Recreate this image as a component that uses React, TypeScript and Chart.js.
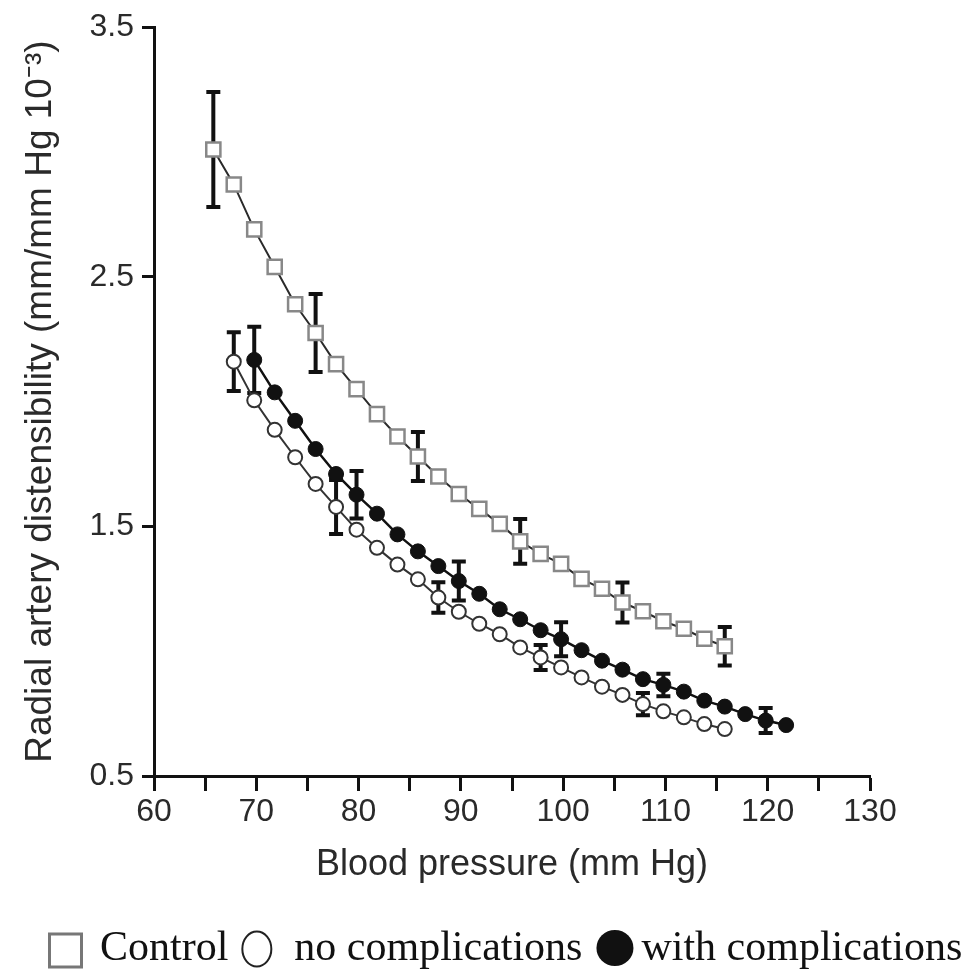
import { useEffect, useRef } from "react";
import { Chart, registerables } from "chart.js";

Chart.register(...registerables);

// Blood pressure (mm Hg) at which each series was sampled
const controlBP = [65.8, 67.8, 69.8, 71.8, 73.8, 75.8, 77.8, 79.8, 81.8, 83.8, 85.8, 87.8, 89.8, 91.8, 93.8, 95.8, 97.8, 99.8, 101.8, 103.8, 105.8, 107.8, 109.8, 111.8, 113.8, 115.8];
const controlDist = [3.01, 2.87, 2.69, 2.54, 2.39, 2.275, 2.15, 2.05, 1.95, 1.86, 1.78, 1.70, 1.63, 1.57, 1.51, 1.44, 1.39, 1.35, 1.29, 1.25, 1.195, 1.16, 1.12, 1.09, 1.05, 1.02];
const controlSD = [0.23, null, null, null, null, 0.156, null, null, null, null, 0.098, null, null, null, null, 0.09, null, null, null, null, 0.08, null, null, null, null, 0.077];

const noCompBP = [67.8, 69.8, 71.8, 73.8, 75.8, 77.8, 79.8, 81.8, 83.8, 85.8, 87.8, 89.8, 91.8, 93.8, 95.8, 97.8, 99.8, 101.8, 103.8, 105.8, 107.8, 109.8, 111.8, 113.8, 115.8];
const noCompDist = [2.16, 2.005, 1.887, 1.777, 1.67, 1.578, 1.487, 1.414, 1.347, 1.288, 1.215, 1.158, 1.11, 1.068, 1.015, 0.975, 0.935, 0.895, 0.858, 0.825, 0.788, 0.759, 0.735, 0.708, 0.688];
const noCompSD = [0.118, null, null, null, null, 0.108, null, null, null, null, 0.061, null, null, null, null, 0.05, null, null, null, null, 0.045, null, null, null, null];

const withCompBP = [69.8, 71.8, 73.8, 75.8, 77.8, 79.8, 81.8, 83.8, 85.8, 87.8, 89.8, 91.8, 93.8, 95.8, 97.8, 99.8, 101.8, 103.8, 105.8, 107.8, 109.8, 111.8, 113.8, 115.8, 117.8, 119.8, 121.8];
const withCompDist = [2.167, 2.037, 1.923, 1.81, 1.71, 1.627, 1.551, 1.468, 1.40, 1.341, 1.281, 1.23, 1.168, 1.128, 1.084, 1.048, 1.004, 0.962, 0.926, 0.888, 0.865, 0.838, 0.802, 0.778, 0.748, 0.722, 0.704];
const withCompSD = [0.133, null, null, null, null, 0.095, null, null, null, null, 0.078, null, null, null, null, 0.068, null, null, null, null, 0.045, null, null, null, null, 0.05, null];

const seriesNames = ["Control", "no complications", "with complications"];
const xTitle = "Blood pressure (mm Hg)";
const yTitle = "Radial artery distensibility (mm/mm Hg 10\u207B\u00B3)";
const xMin = 60, xMax = 130, xStep = 5, xLabelEvery = 10;
const yMin = 0.5, yMax = 3.5, yStep = 1;

const groups = [
  { bp: controlBP, val: controlDist, sd: controlSD },
  { bp: noCompBP, val: noCompDist, sd: noCompSD },
  { bp: withCompBP, val: withCompDist, sd: withCompSD },
];

const errorBarPlugin = {
  id: "errorBars",
  beforeDatasetsDraw(chart: any) {
    const { ctx, scales } = chart;
    const x = scales.x, y = scales.y;
    ctx.save();
    ctx.strokeStyle = "#111";
    ctx.lineWidth = 4;
    ctx.lineCap = "butt";
    groups.forEach((g) => {
      g.sd.forEach((sd, i) => {
        if (sd == null) return;
        const px = x.getPixelForValue(g.bp[i]);
        const top = y.getPixelForValue(g.val[i] + sd);
        const bot = y.getPixelForValue(g.val[i] - sd);
        ctx.beginPath();
        ctx.moveTo(px, top);
        ctx.lineTo(px, bot);
        ctx.moveTo(px - 7, top);
        ctx.lineTo(px + 7, top);
        ctx.moveTo(px - 7, bot);
        ctx.lineTo(px + 7, bot);
        ctx.stroke();
      });
    });
    ctx.restore();
  },
};

const legendPlugin = {
  id: "customLegend",
  afterDraw(chart: any) {
    const { ctx } = chart;
    const cy = chart.height - 23;
    ctx.save();
    ctx.font = "42px 'Liberation Serif'";
    ctx.fillStyle = "#111";
    ctx.textBaseline = "alphabetic";
    let x = 48;
    // square
    ctx.strokeStyle = "#777";
    ctx.lineWidth = 3;
    ctx.strokeRect(x + 1.5, cy - 16, 32, 33);
    x += 35 + 17;
    ctx.fillText(seriesNames[0], x, cy + 10);
    x += ctx.measureText(seriesNames[0]).width + 13;
    // open circle
    ctx.strokeStyle = "#222";
    ctx.lineWidth = 2;
    ctx.beginPath();
    ctx.ellipse(x + 15.5, cy - 1, 14.5, 17.5, 0, 0, Math.PI * 2);
    ctx.stroke();
    x += 31 + 22;
    ctx.fillText(seriesNames[1], x, cy + 10);
    x += ctx.measureText(seriesNames[1]).width + 14;
    // filled circle
    ctx.beginPath();
    ctx.ellipse(x + 18.5, cy - 2, 18.5, 18, 0, 0, Math.PI * 2);
    ctx.fill();
    x += 37 + 8;
    ctx.fillText(seriesNames[2], x, cy + 10);
    ctx.restore();
  },
};

export default function App() {
  const ref = useRef<HTMLCanvasElement | null>(null);
  useEffect(() => {
    document.body.style.margin = "0";
    document.body.style.overflow = "hidden";
    if (!ref.current) return;
    const mk = (bp: number[], v: number[]) => bp.map((b, i) => ({ x: b, y: v[i] }));
    const chart = new Chart(ref.current, {
      type: "line",
      data: {
        datasets: [
          {
            label: seriesNames[0],
            data: mk(controlBP, controlDist),
            borderColor: "#2a2a2a",
            borderWidth: 2,
            pointStyle: "rect",
            pointRadius: 10,
            pointBorderColor: "#888",
            pointBackgroundColor: "#fff",
            pointBorderWidth: 2.5,
            tension: 0,
          },
          {
            label: seriesNames[1],
            data: mk(noCompBP, noCompDist),
            borderColor: "#333",
            borderWidth: 2,
            pointStyle: "circle",
            pointRadius: 7,
            pointBorderColor: "#333",
            pointBackgroundColor: "#fff",
            pointBorderWidth: 2,
            tension: 0,
          },
          {
            label: seriesNames[2],
            data: mk(withCompBP, withCompDist),
            borderColor: "#111",
            borderWidth: 2.5,
            pointStyle: "circle",
            pointRadius: 7.5,
            pointBorderColor: "#111",
            pointBackgroundColor: "#111",
            pointBorderWidth: 1,
            tension: 0,
          },
        ],
      },
      options: {
        responsive: false,
        animation: false,
        layout: { padding: { left: 0, top: 24, right: 107, bottom: 73 } },
        plugins: { legend: { display: false }, tooltip: { enabled: false } },
        scales: {
          x: {
            type: "linear",
            min: xMin,
            max: xMax,
            afterFit: (s: any) => { s.height = 124; },
            ticks: {
              stepSize: xStep,
              autoSkip: false,
              maxRotation: 0,
              padding: 2,
              color: "#2a2a2a",
              font: { family: "'Liberation Sans'", size: 32 },
              callback: (v: any) => (Number(v) % xLabelEvery === 0 ? String(v) : ""),
            },
            grid: { drawOnChartArea: false, drawTicks: true, tickLength: 15, tickWidth: 3, tickColor: "#111" },
            border: { display: true, width: 3, color: "#111" },
            title: {
              display: true,
              text: xTitle,
              color: "#2a2a2a",
              font: { family: "'Liberation Sans'", size: 36 },
              padding: { top: 0, bottom: 13 },
            },
          },
          y: {
            type: "linear",
            min: yMin,
            max: yMax,
            afterFit: (s: any) => { s.width = 154; },
            ticks: {
              stepSize: yStep,
              padding: 8,
              color: "#2a2a2a",
              font: { family: "'Liberation Sans'", size: 32 },
              callback: (v: any) => Number(v).toFixed(1),
            },
            grid: { drawOnChartArea: false, drawTicks: true, tickLength: 12, tickWidth: 3, tickColor: "#111" },
            border: { display: true, width: 3, color: "#111" },
            title: {
              display: true,
              text: yTitle,
              color: "#2a2a2a",
              font: { family: "'Liberation Sans'", size: 37 },
              padding: { top: 19, bottom: 0 },
            },
          },
        },
      },
      plugins: [errorBarPlugin, legendPlugin],
    });
    return () => chart.destroy();
  }, []);
  return <canvas ref={ref} width={977} height={973} style={{ display: "block" }} />;
}
